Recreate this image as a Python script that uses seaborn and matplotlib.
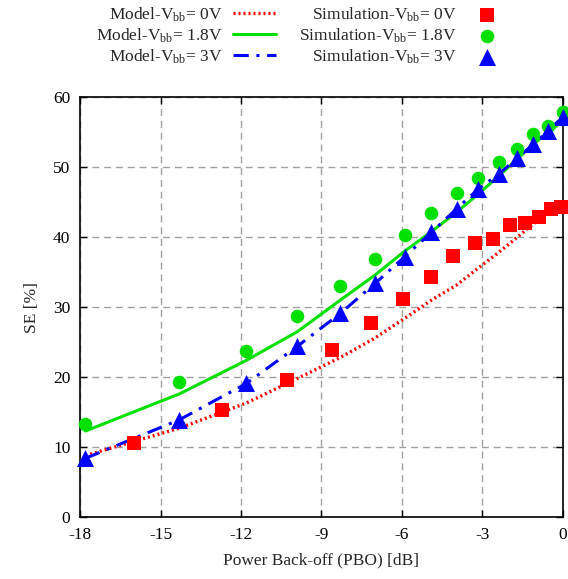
import numpy as np
import pandas as pd
import seaborn as sns
import matplotlib.pyplot as plt

# PBO positions (dB) of the 1.8V / 3V points and the model curves
pbo = [-17.8, -14.3, -11.8, -9.9, -8.3, -7.0, -5.9, -4.9, -3.95, -3.15, -2.4, -1.7, -1.1, -0.55, 0.0]
# PBO positions of the 0V simulation points
pbo_0v = [-16.0, -12.7, -10.3, -8.6, -7.15, -5.97, -4.93, -4.08, -3.26, -2.6, -1.96, -1.41, -0.89, -0.44, -0.07]

model_0v = [8.8, 12.7, 16.3, 19.8, 22.8, 25.6, 28.4, 31.0, 33.2, 35.6, 37.8, 40.0, 41.9, 43.5, 44.4]
model_18v = [12.3, 17.6, 22.4, 26.5, 31.0, 34.6, 38.0, 40.8, 43.6, 46.2, 48.7, 51.2, 53.3, 55.0, 56.6]
model_3v = [8.4, 13.9, 19.1, 24.4, 29.1, 33.4, 37.2, 40.7, 44.1, 46.9, 49.0, 51.3, 53.3, 55.2, 57.2]

sim_0v = [10.6, 15.3, 19.6, 23.9, 27.7, 31.1, 34.3, 37.3, 39.1, 39.7, 41.7, 42.0, 42.9, 44.0, 44.3]
sim_18v = [13.3, 19.3, 23.7, 28.7, 33.0, 36.9, 40.3, 43.4, 46.3, 48.4, 50.7, 52.6, 54.7, 55.9, 57.9]
sim_3v = model_3v

x_ticks = [-18, -15, -12, -9, -6, -3, 0]
y_ticks = [0, 10, 20, 30, 40, 50, 60]

sns.set_theme(style='ticks')
plt.rcParams['font.family'] = ['Liberation Serif', 'DejaVu Serif']
plt.rcParams['mathtext.fontset'] = 'custom'
plt.rcParams['mathtext.rm'] = 'Liberation Serif'
plt.rcParams['mathtext.it'] = 'Liberation Serif:italic'

fig = plt.figure(figsize=(5.68, 5.79), dpi=100, facecolor='white')
ax = fig.add_axes([0.141, 0.107, 0.85, 0.725])
ax.set_facecolor('white')

red, green, blue = '#ff0000', '#00e000', '#0000ff'

sns.lineplot(x=pbo, y=model_0v, ax=ax, color=red, lw=2.4, linestyle=(0, (0.6, 0.9)),
             label=r'Model-V$_{\rm bb}$= 0V')
sns.lineplot(x=pbo, y=model_18v, ax=ax, color=green, lw=2.2, linestyle='-',
             label=r'Model-V$_{\rm bb}$= 1.8V')
sns.lineplot(x=pbo, y=model_3v, ax=ax, color=blue, lw=2.2, linestyle=(0, (5, 2.5, 1, 2.5)),
             label=r'Model-V$_{\rm bb}$= 3V')

sns.scatterplot(x=pbo_0v, y=sim_0v, ax=ax, color=red, marker='s', s=100, linewidth=0,
                label=r'Simulation-V$_{\rm bb}$= 0V', zorder=4, clip_on=False)
sns.scatterplot(x=pbo, y=sim_18v, ax=ax, color=green, marker='o', s=95, linewidth=0,
                label=r'Simulation-V$_{\rm bb}$= 1.8V', zorder=4, clip_on=False)
sns.scatterplot(x=pbo, y=sim_3v, ax=ax, color=blue, marker='^', s=150, linewidth=0,
                label=r'Simulation-V$_{\rm bb}$= 3V', zorder=4, clip_on=False)

ax.set_xlim(-18, 0)
ax.set_ylim(0, 60)
ax.set_xticks(x_ticks)
ax.set_yticks(y_ticks)
ax.set_xticklabels([str(t) for t in x_ticks])
ax.set_yticklabels([str(t) for t in y_ticks])
ax.grid(True, color='#a0a0a0', lw=1.0, linestyle=(0, (5, 3.5)))
ax.tick_params(direction='in', length=5, width=1, top=True, right=True,
               labelsize=12.5, pad=7, colors='black')
for s in ax.spines.values():
    s.set_linewidth(1.2)
    s.set_color('black')
    s.set_visible(True)

ax.set_xlabel('Power Back-off (PBO) [dB]', fontsize=12.5, labelpad=7)
ax.set_ylabel('SE [%]', fontsize=12.5, labelpad=9)

handles, labels = ax.get_legend_handles_labels()
ax.legend_.remove()
fig.legend(handles, labels, ncol=2, loc='upper center', bbox_to_anchor=(0.533, 1.012),
           frameon=False, markerfirst=False, fontsize=12.5, handlelength=2.5,
           handletextpad=0.55, columnspacing=1.3, labelspacing=0.15, borderpad=0.2)

fig.savefig('out.png', dpi=100, facecolor='white')
